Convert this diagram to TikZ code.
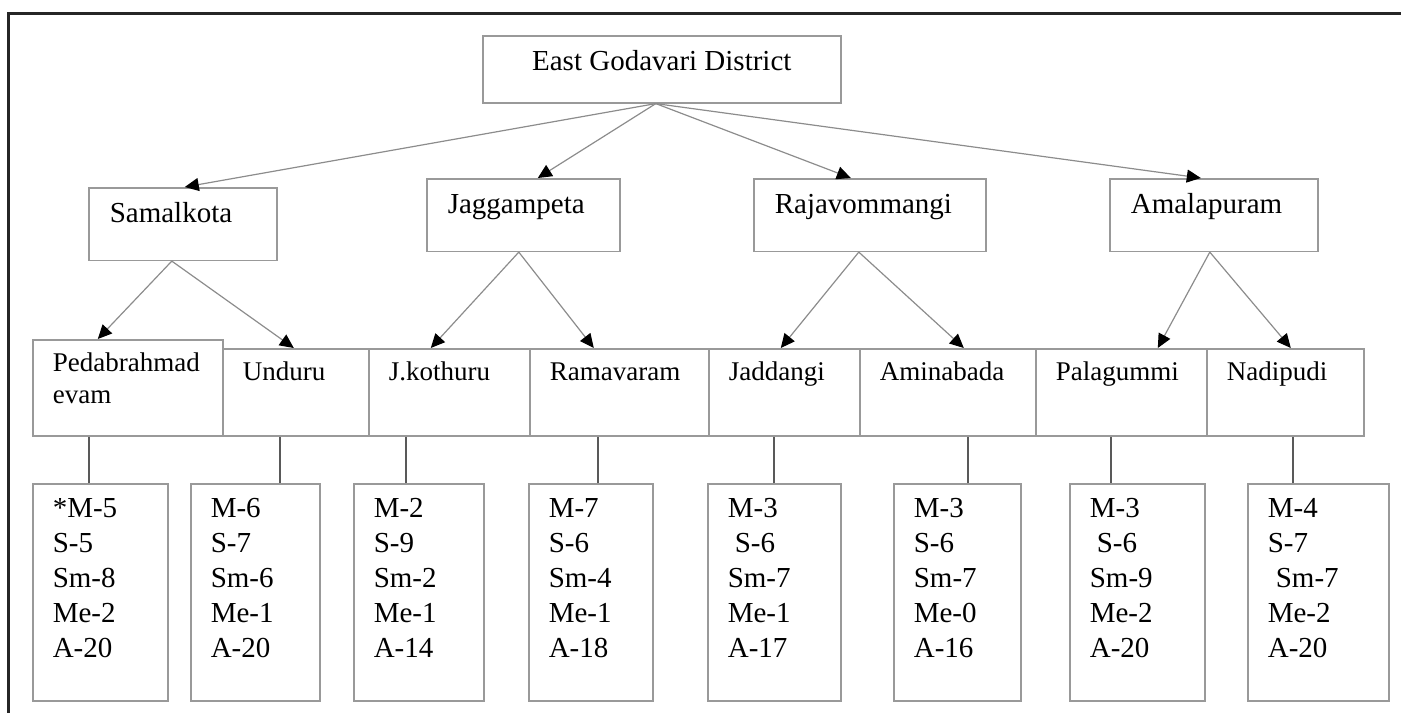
\documentclass[tikz,border=0pt]{standalone}
\usepackage{fontspec}
\setmainfont{Liberation Serif}
\usetikzlibrary{arrows.meta}
\tikzset{
  caja/.style={draw=black!40, line width=0.8pt, inner ysep=0pt, anchor=north west, align=left, text=black},
  distrito/.style={caja, minimum width=179pt, text height=17.5pt, text depth=16pt, align=center, font=\fontsize{14.5}{17.5}\selectfont},
  mandal/.style={caja, inner xsep=10.5pt, text height=17.5pt, text depth=18.75pt, font=\fontsize{14.5}{17.5}\selectfont},
  aldea/.style={caja, inner xsep=10pt, text height=16pt, text depth=27.5pt, font=\fontsize{13.5}{16}\selectfont},
  datos/.style={caja, inner xsep=10pt, text height=17pt, text depth=91.5pt, font=\fontsize{14.5}{17.5}\selectfont},
  flecha/.style={draw=black!45, line width=0.6pt, -{Triangle[black, length=7pt, width=6.5pt]}},
  linea/.style={draw=black!65, line width=0.8pt}
}
\begin{document}
\begin{tikzpicture}[x=0.5pt, y=-0.5pt]
        \useasboundingbox (0,0) rectangle (1401,712);
        \draw[black!85, line width=1.5pt] (8.5,730) -- (8.5,13) -- (1420,13); % marco
        % distrito
        \node[distrito] (egd) at (482,35) {East Godavari District};
        % mandales
        \node[mandal, text width=73pt] (sam) at (88,187) {Samalkota};
        \node[mandal, text width=75.5pt] (jag) at (426,178) {Jaggampeta};
        \node[mandal, text width=95pt] (raj) at (753,178) {Rajavommangi};
        \node[mandal, text width=83pt] (ama) at (1109,178) {Amalapuram};
        % aldeas
        \node[aldea, text width=75pt, text depth=32pt] (ped) at (32,339) {Pedabrahmad\\evam};
        \node[aldea, text width=53pt] (und) at (222,348) {Unduru};
        \node[aldea, text width=60.5pt] (jko) at (368,348) {J.kothuru};
        \node[aldea, text width=69.5pt] (ram) at (529,348) {Ramavaram};
        \node[aldea, text width=55.5pt] (jad) at (708,348) {Jaddangi};
        \node[aldea, text width=68pt] (ami) at (859,348) {Aminabada};
        \node[aldea, text width=65.5pt] (pal) at (1035,348) {Palagummi};
        \node[aldea, text width=58.5pt] (nad) at (1206,348) {Nadipudi};
        % datos
        \node[datos, text width=47.5pt] (d1) at (32,483) {*M-5\\S-5\\Sm-8\\Me-2\\A-20};
        \node[datos, text width=44.5pt] (d2) at (190,483) {M-6\\S-7\\Sm-6\\Me-1\\A-20};
        \node[datos, text width=45pt] (d3) at (353,483) {M-2\\S-9\\Sm-2\\Me-1\\A-14};
        \node[datos, text width=42pt] (d4) at (528,483) {M-7\\S-6\\Sm-4\\Me-1\\A-18};
        \node[datos, text width=46.5pt] (d5) at (707,483) {M-3\\\hspace*{3.5pt}S-6\\Sm-7\\Me-1\\A-17};
        \node[datos, text width=43.5pt] (d6) at (893,483) {M-3\\S-6\\Sm-7\\Me-0\\A-16};
        \node[datos, text width=47.5pt] (d7) at (1069,483) {M-3\\\hspace*{3.5pt}S-6\\Sm-9\\Me-2\\A-20};
        \node[datos, text width=50.5pt] (d8) at (1247,483) {M-4\\S-7\\\hspace*{4pt}Sm-7\\Me-2\\A-20};
        % flechas
        \foreach \a/\da/\b/\db in {egd/-3pt/sam/1pt, egd/-3pt/jag/7.25pt, egd/-3pt/raj/-9.5pt, egd/-3pt/ama/-6.5pt,
                sam/-5.5pt/ped/-15pt, sam/-5.5pt/und/-1pt, jag/-2.25pt/jko/-9.25pt, jag/-2.25pt/ram/-12.75pt,
                raj/-5.5pt/jad/-1.75pt, raj/-5.5pt/ami/8pt, ama/-2pt/pal/18.25pt, ama/-2pt/nad/2.75pt}
        \draw[flecha] ([xshift=\da]\a.south) -- ([xshift=\db]\b.north);
        % lineas
        \foreach \a/\b/\dx in {ped/d1/28.5pt, und/d2/45pt, jko/d3/26.5pt, ram/d4/35pt,
                jad/d5/33.5pt, ami/d6/37.5pt, pal/d7/21pt, nad/d8/23pt}
        \draw[linea] ([xshift=\dx]\b.north west) -- ([xshift=\dx]\b.north west |- \a.south);
\end{tikzpicture}
\end{document}
